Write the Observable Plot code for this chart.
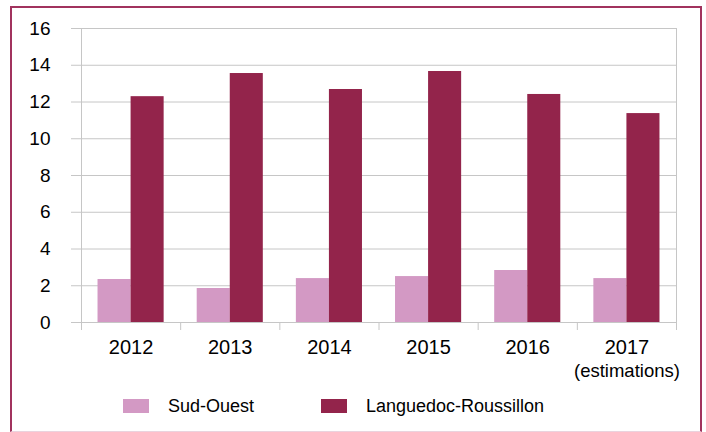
<!DOCTYPE html>
<html>
<head>
<meta charset="utf-8">
<script src="https://cdn.jsdelivr.net/npm/d3@7"></script>
<script src="https://cdn.jsdelivr.net/npm/@observablehq/plot@0.6"></script>
<style>
  html, body { margin: 0; padding: 0; background: #fff; }
  body { width: 706px; height: 432px; position: relative; overflow: hidden; font-family: "Liberation Sans", Arial, sans-serif; }
  #border { position: absolute; left: 10px; top: 6px; width: 692px; height: 426px; box-sizing: border-box;
            border: 2.5px solid #a1335e; border-bottom: 1px solid #ead3de; }
  #chart { position: absolute; left: 0; top: 0; }
  #legend { position: absolute; left: 123px; top: 397px; display: flex; align-items: center; font-size: 18px; line-height: 18px; color: #000; }
  .item { display: flex; align-items: center; }
  .item:first-child { width: 198px; }
  .sw { width: 26px; height: 14px; margin-right: 19px; }
</style>
</head>
<body>
<div id="chart"></div>
<div id="legend"></div>
<div id="border"></div>
<script>
const years = ["2012", "2013", "2014", "2015", "2016", "2017"];
const notes = ["", "", "", "", "", "(estimations)"];
const seriesNames = ["Sud-Ouest", "Languedoc-Roussillon"];
const sudOuest = [2.34, 1.85, 2.39, 2.5, 2.83, 2.39];
const languedoc = [12.29, 13.55, 12.68, 13.66, 12.41, 11.37];
const yTicks = [0, 2, 4, 6, 8, 10, 12, 14, 16];
const colors = ["#d399c4", "#93244b"];

const seriesValues = [sudOuest, languedoc];
const rows = [];
years.forEach((y, i) => {
  seriesNames.forEach((s, k) => {
    rows.push({year: y, idx: i, s: k, series: s, value: seriesValues[k][i]});
  });
});

const gray = "#c6c6c6";
const chart = Plot.plot({
  width: 706,
  height: 390,
  marginLeft: 81,
  marginRight: 30,
  marginTop: 28,
  marginBottom: 68,
  style: {fontFamily: "Liberation Sans, Arial, sans-serif", background: "transparent", color: "#000"},
  x: {domain: [0, years.length], axis: null},
  y: {domain: [0, 16], axis: null},
  color: {domain: seriesNames, range: colors},
  marks: [
    Plot.gridY(yTicks, {stroke: gray, strokeOpacity: 1, strokeWidth: 1}),
    Plot.axisY(yTicks, {tickSize: 10, tickPadding: 21, stroke: gray, fill: "#000", fontSize: 19, label: null, tickFormat: d => d}),
    Plot.axisX(d3.range(0, years.length + 1), {tickSize: 8, stroke: gray, tickFormat: () => "", label: null}),
    Plot.frame({stroke: gray}),
    Plot.rectY(rows, {
      x1: d => d.idx + 1/6 + d.s / 3,
      x2: d => d.idx + 1/6 + (d.s + 1) / 3,
      y1: 0,
      y2: "value",
      fill: "series"
    }),
    Plot.text(years, {x: (d, i) => i + 0.5, y: () => 0, text: d => d, lineAnchor: "top", dy: 17, fontSize: 20, fill: "#000"}),
    Plot.text(notes, {x: (d, i) => i + 0.5, y: () => 0, text: d => d, lineAnchor: "top", dy: 41, fontSize: 18.5, fill: "#000"})
  ]
});
document.getElementById("chart").appendChild(chart);

const legend = document.getElementById("legend");
seriesNames.forEach((s, k) => {
  const item = document.createElement("div");
  item.className = "item";
  const sw = document.createElement("span");
  sw.className = "sw";
  sw.style.background = colors[k];
  const t = document.createElement("span");
  t.textContent = s;
  item.appendChild(sw);
  item.appendChild(t);
  legend.appendChild(item);
});
</script>
</body>
</html>
